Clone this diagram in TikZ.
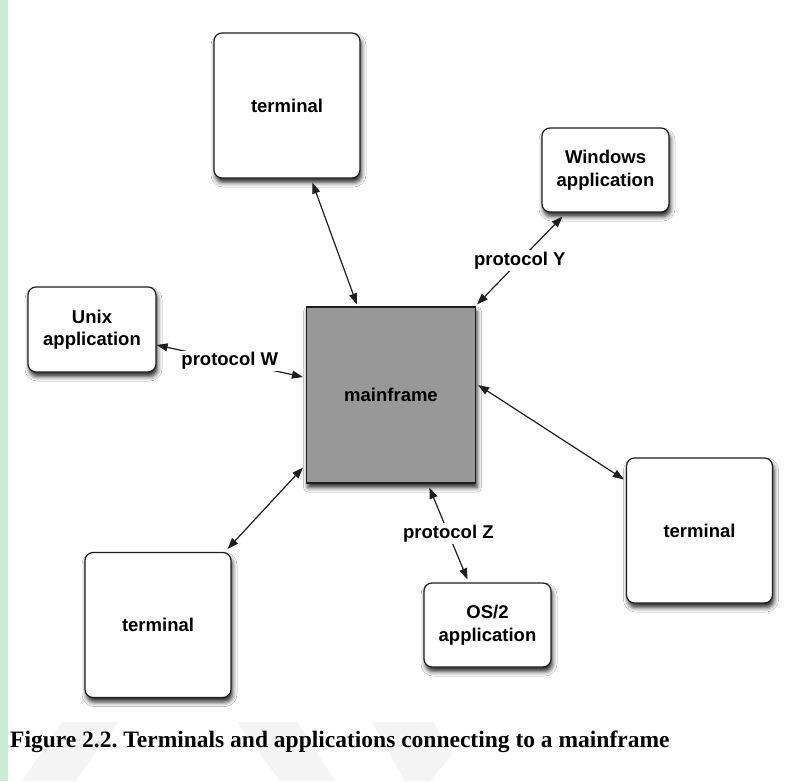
\documentclass[tikz,border=0pt]{standalone}
\usepackage{fontspec}
\setmainfont{Liberation Serif}
\newfontfamily\labfont{Liberation Sans}
\usetikzlibrary{arrows.meta,shadows.blur}
\definecolor{mfgray}{RGB}{152,152,152}
\definecolor{bargreen}{RGB}{205,235,211}
\definecolor{wmgray}{RGB}{244,244,244}
\definecolor{edge}{RGB}{30,30,30}
\frenchspacing
\tikzset{
  boxfont/.style={font=\labfont\bfseries\fontsize{18.5}{22.5}\selectfont},
  shad/.style={blur shadow={shadow xshift=1.5pt, shadow yshift=-4.5pt, shadow blur radius=4.5pt, shadow opacity=85}},
  box/.style={boxfont, draw=edge, line width=1.2pt, rounded corners=8pt, fill=white,
    shad, align=center, inner sep=0pt},
  mframe/.style={boxfont, draw=edge, line width=1.2pt, fill=mfgray, shad, inner sep=0pt},
  conn/.style={line width=1.2pt, draw=edge,
    {Triangle[length=11pt,width=8pt]}-{Triangle[length=11pt,width=8pt]}},
  lbl/.style={boxfont, fill=white, inner sep=1.5pt},
  wm/.style={fill=wmgray, draw=none}
}
\begin{document}
\begin{tikzpicture}[x=1pt,y=-1pt]
\useasboundingbox (0,0) rectangle (786,781);
\fill[white] (0,0) rectangle (786,781);
% watermark
\fill[wm] (62,722) -- (118,722) -- (75,781) -- (22,781) -- cycle;
\fill[wm] (237,722) -- (297,722) -- (335,781) -- (280,781) -- cycle;
\fill[wm] (372,722) -- (433,722) -- (452,755) -- (430,781) -- (405,781) -- cycle;
% left bar
\fill[bargreen] (0,0) rectangle (8,781);

% nodes
\node[box, minimum width=146pt, minimum height=145pt] (t1) at (287,105.5) {terminal};
\node[box, minimum width=127pt, minimum height=84pt] (win) at (605.5,170) {Windows\\application};
\node[box, minimum width=128pt, minimum height=85pt] (unix) at (92,329.5) {Unix\\application};
\node[mframe, minimum width=169pt, minimum height=176pt] (mf) at (391,395) {mainframe};
\node[box, minimum width=146pt, minimum height=145pt] (t2) at (699.5,530.5) {terminal};
\node[box, minimum width=146pt, minimum height=145pt] (t3) at (158,625) {terminal};
\node[box, minimum width=127pt, minimum height=84pt] (os2) at (487.5,625) {OS/2\\application};

% connectors
\draw[conn] ([xshift=99pt,yshift=-4pt]t1.south west) -- ([xshift=51pt,yshift=2pt]mf.north west);
\draw[conn] ([xshift=21pt,yshift=-4pt]win.south west) -- node[lbl] (ly) {protocol Y} ([xshift=1pt,yshift=2pt]mf.north east);
\draw[conn] ([yshift=-15.5pt]unix.east) -- node[lbl] (lw) {protocol W} ([xshift=-3pt,yshift=18pt]mf.west);
\draw[conn] ([xshift=2pt,yshift=10pt]mf.east) -- ([xshift=-2pt,yshift=-22pt]t2.north west);
\draw[conn] ([xshift=-3pt,yshift=16pt]mf.south west) -- ([xshift=-4pt,yshift=3pt]t3.north east);
\draw[conn] ([xshift=123.5pt,yshift=-4pt]mf.south west) -- node[lbl] (lz) {protocol Z} ([xshift=44pt,yshift=3pt]os2.north west);

% caption
\node[anchor=base west, inner sep=0pt, font=\bfseries\fontsize{23.5}{26}\selectfont] (cap) at (10,747)
  {Figure 2.2. Terminals and applications connecting to a mainframe};
\end{tikzpicture}
\end{document}
